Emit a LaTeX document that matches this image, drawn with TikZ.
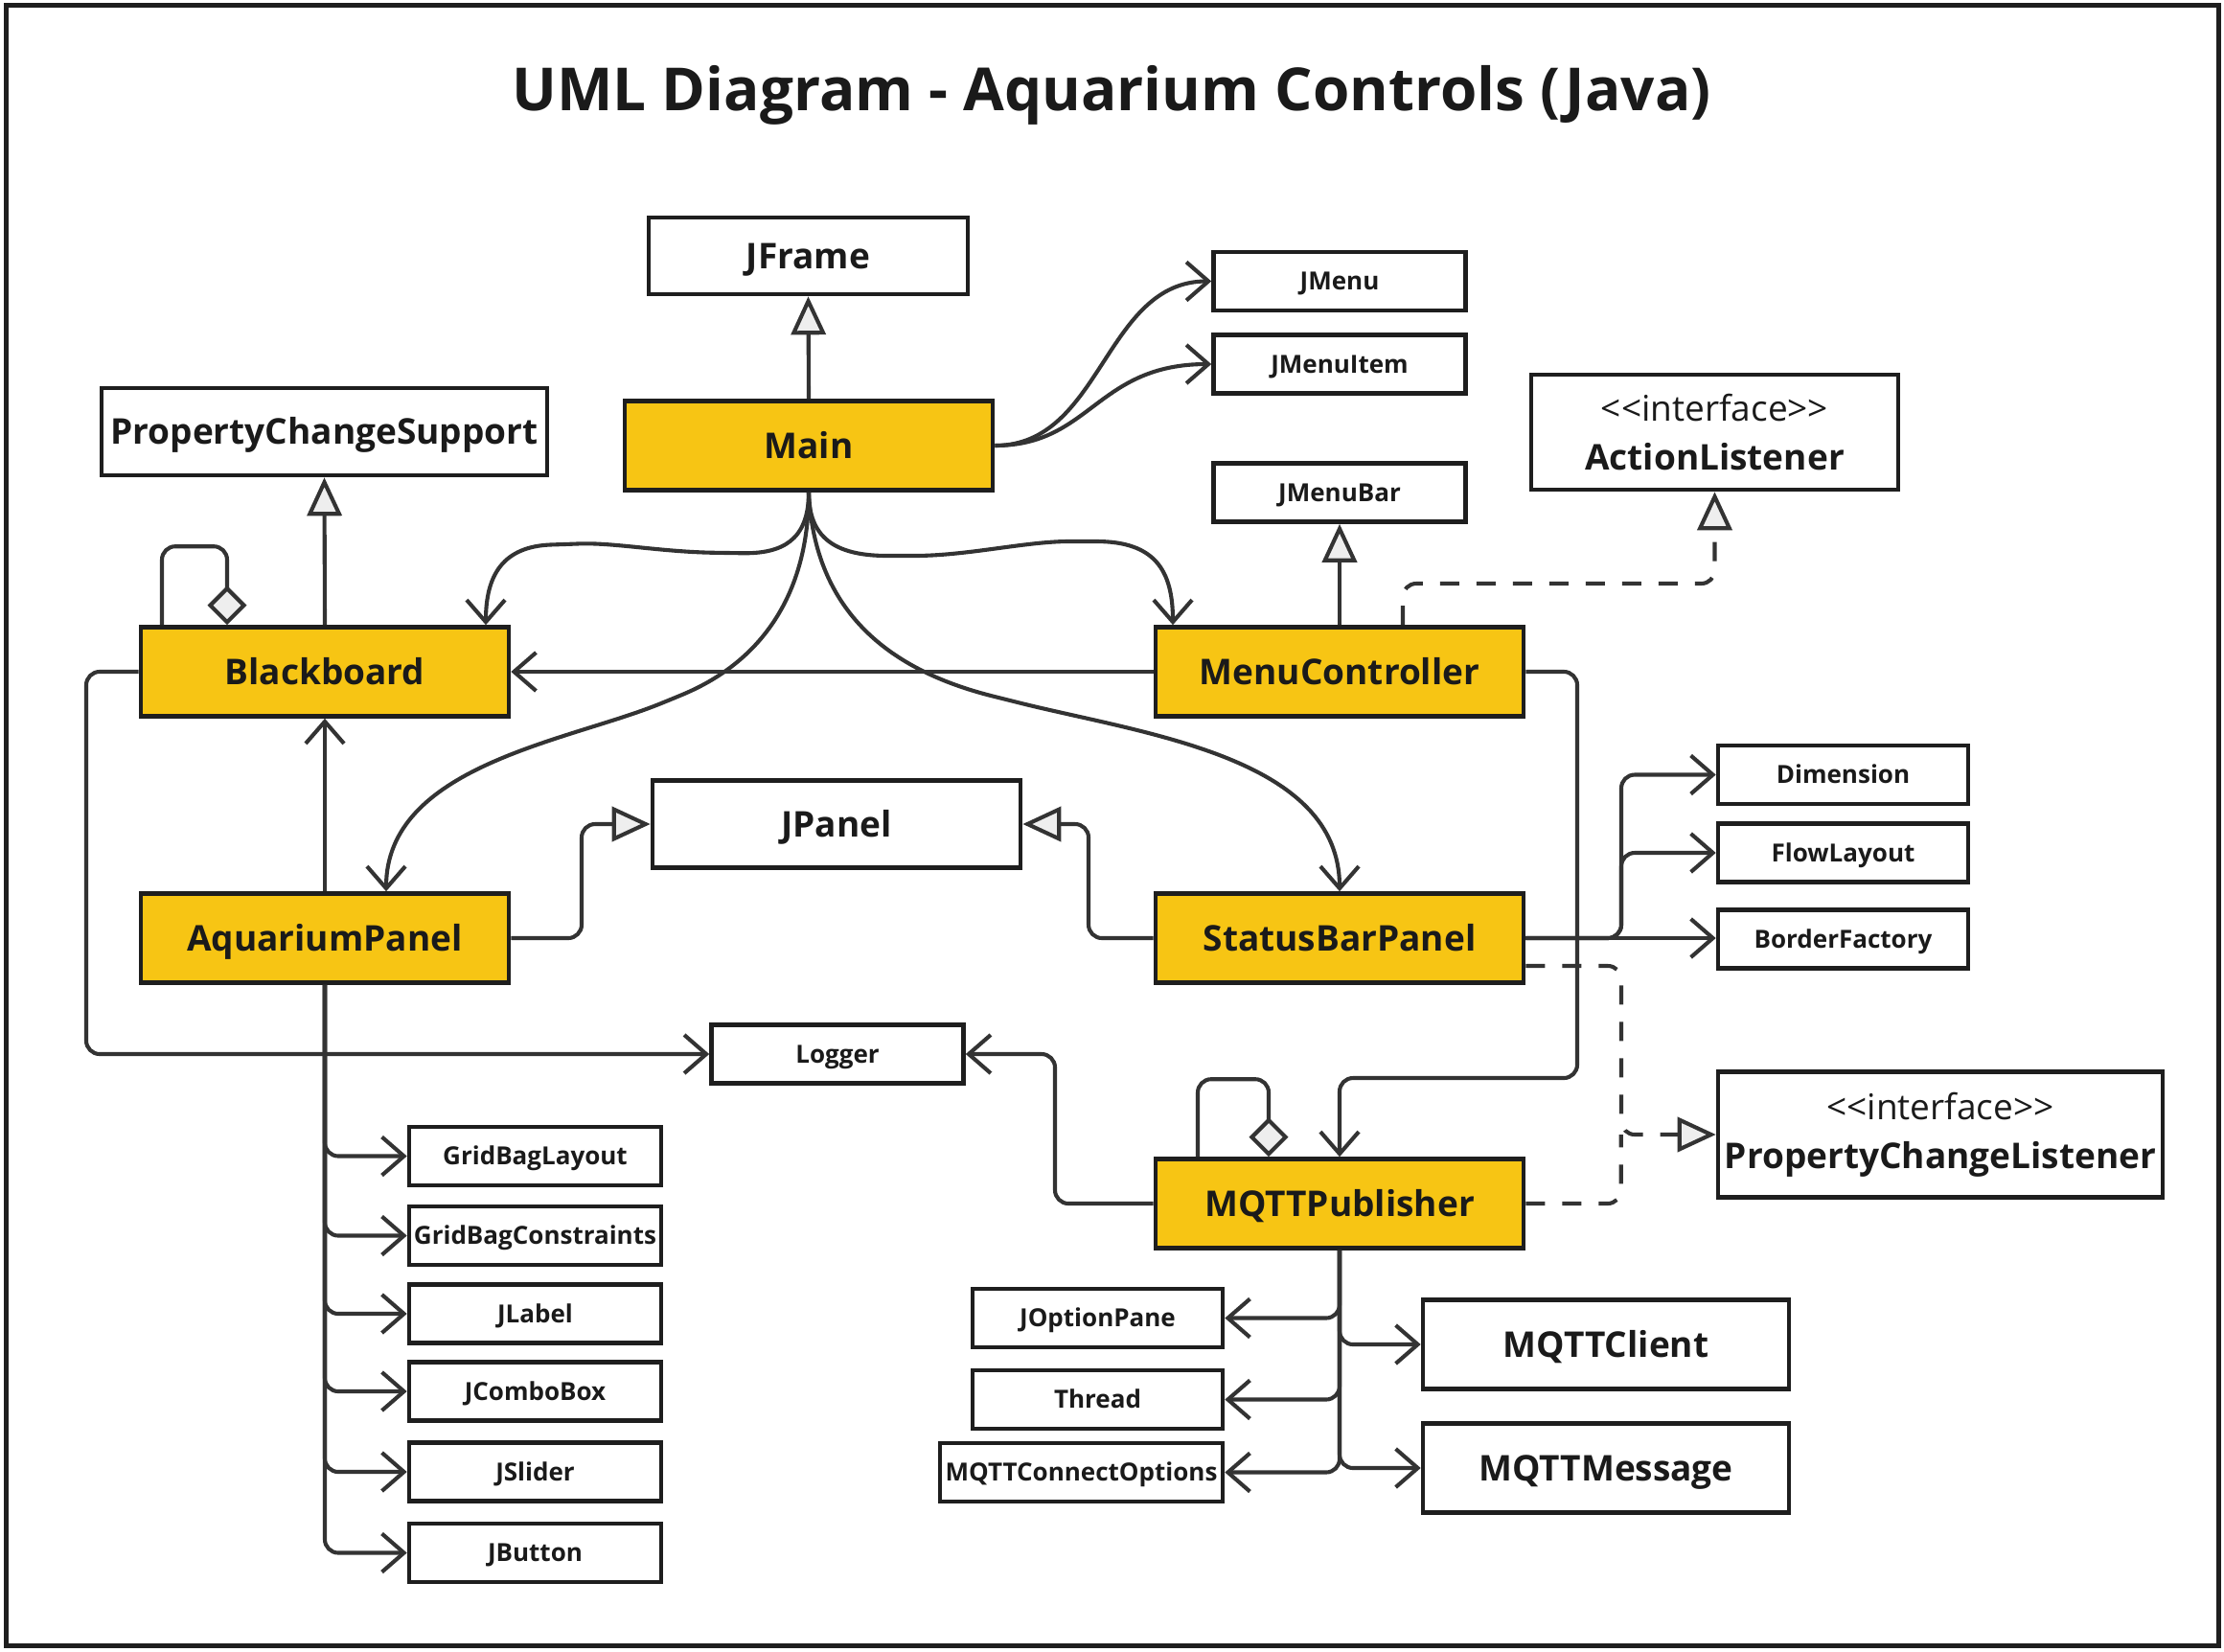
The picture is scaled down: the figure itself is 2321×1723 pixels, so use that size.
\documentclass[tikz,border=0pt]{standalone}
\usepackage{fontspec}
\IfFontExistsTF{Noto Sans Bold}
  {\newfontfamily\nf{Noto Sans}[BoldFont={Noto Sans Bold}]}
  {\IfFontExistsTF{Open Sans Bold}
     {\newfontfamily\nf{Open Sans}[BoldFont={Open Sans Bold}]}
     {\newfontfamily\nf{Noto Sans}[BoldFeatures={FakeBold=2.5}]}}
\usetikzlibrary{arrows.meta}
\definecolor{ybox}{HTML}{F7C514}
\definecolor{edge}{HTML}{333333}
\definecolor{bord}{HTML}{1E1E1E}
\definecolor{tipfill}{HTML}{EEEEEE}
\definecolor{txt}{HTML}{1A1A1A}
\begin{document}
\begin{tikzpicture}[x=0.5pt,y=-0.5pt,
  box/.style={draw=bord, line width=2.3pt, fill=white, text=txt, inner sep=0pt,
    font=\nf\bfseries\fontsize{18.5}{22}\selectfont, text height=13.2pt, text depth=0pt},
  big/.style={box, minimum width=192pt, minimum height=46.5pt},
  cls/.style={big, fill=ybox},
  small/.style={box, minimum width=131.5pt, minimum height=30.5pt,
    font=\nf\bfseries\fontsize{13}{16}\selectfont, text height=9.3pt},
  iface/.style={box, align=center, text height=, text depth=,
    font=\nf\fontsize{18.5}{25.5}\selectfont},
  conn/.style={draw=edge, line width=2.05pt, rounded corners=7pt},
  assoc/.style={conn, -{Straight Barb[length=11.5pt,width=20pt]}},
  gen/.style={conn, -{Triangle[length=20pt,width=18pt,fill=tipfill]}},
  real/.style={gen, dash pattern=on 10pt off 9pt},
  realline/.style={conn, dash pattern=on 10pt off 9pt},
  agg/.style={conn, -{Diamond[length=20.5pt,width=20.5pt,fill=tipfill]}},
]
\useasboundingbox (0,0) rectangle (2321,1723);
\fill[white] (0,0) rectangle (2321,1723);
\draw[draw=bord, line width=2.5pt] (6,6) rectangle (2315,1717);

\node[anchor=base, text=txt, font=\nf\bfseries\fontsize{31}{36}\selectfont] (title) at (1160,115) {UML Diagram - Aquarium Controls (Java)};

% nodes
\node[box, minimum width=166.5pt, minimum height=40pt] (jframe) at (843.5,267) {JFrame};
\node[cls] (main) at (844,465) {Main};
\node[box, minimum width=232.5pt, minimum height=45.5pt] (pcs) at (338.5,450.5) {PropertyChangeSupport};
\node[cls] (blackboard) at (339,701) {Blackboard};
\node[cls] (menuctl) at (1398,701) {MenuController};
\node[small] (jmenu) at (1398,293.5) {JMenu};
\node[small] (jmenuitem) at (1398,380) {JMenuItem};
\node[small] (jmenubar) at (1398,514) {JMenuBar};
\node[iface, minimum width=191.5pt, minimum height=60pt] (actionl) at (1789.5,451) {<<interface>>\\\bfseries ActionListener};
\node[big, minimum height=45.5pt] (jpanel) at (873,860) {JPanel};
\node[cls] (aquarium) at (339,979) {AquariumPanel};
\node[cls] (statusbar) at (1398,979) {StatusBarPanel};
\node[small] (logger) at (874,1100) {Logger};
\node[small] (gbl) at (558.5,1206.5) {GridBagLayout};
\node[small] (gbc) at (558.5,1289.5) {GridBagConstraints};
\node[small] (jlabel) at (558.5,1371) {JLabel};
\node[small] (jcombo) at (558.5,1452) {JComboBox};
\node[small] (jslider) at (558.5,1536) {JSlider};
\node[small] (jbutton) at (558.5,1620.5) {JButton};
\node[small, minimum width=130.5pt] (dimension) at (1923.5,808.5) {Dimension};
\node[small, minimum width=130.5pt] (flow) at (1923.5,890) {FlowLayout};
\node[small, minimum width=130.5pt] (borderf) at (1923.5,980) {BorderFactory};
\node[iface, minimum width=232pt, minimum height=65.5pt] (pcl) at (2025,1184) {<<interface>>\\\bfseries PropertyChangeListener};
\node[cls] (mqttpub) at (1398,1256) {MQTTPublisher};
\node[small, minimum width=130.5pt] (joption) at (1145.5,1375.5) {JOptionPane};
\node[small, minimum width=130.5pt] (thread) at (1145.5,1460.5) {Thread};
\node[small, minimum width=147.5pt] (mqttconn) at (1128.5,1536.5) {MQTTConnectOptions};
\node[big, minimum width=191pt] (mqttclient) at (1676,1403) {MQTTClient};
\node[big, minimum width=191pt] (mqttmsg) at (1676,1532) {MQTTMessage};

% generalizations
\draw[gen] (main.north) -- (jframe.south);
\draw[gen] (blackboard.north) -- (pcs.south);
\draw[gen] (menuctl.north) -- (jmenubar.south);
\draw[gen] (aquarium.east) -| (607,0 |- jpanel.west) -- (jpanel.west);
\draw[gen] (statusbar.west) -| (1136,0 |- jpanel.east) -- (jpanel.east);

% realizations
\draw[real] ([xshift=33pt]menuctl.north) |- (1600,609) -| (actionl.south);
\draw[real] ([yshift=-14.5pt]statusbar.east) -| (1692,0 |- pcl.west) -- (pcl.west);
\draw[realline] (mqttpub.east) -| ([xshift=-49.5pt]pcl.west);

% self aggregations
\draw[agg] ([xshift=-85pt]blackboard.north) |- ([xshift=-68pt,yshift=41pt]blackboard.north) -| ([xshift=-51pt]blackboard.north);
\draw[agg] ([xshift=-74pt]mqttpub.north) |- ([xshift=-56pt,yshift=40.5pt]mqttpub.north) -| ([xshift=-37pt]mqttpub.north);

% Main associations
\draw[assoc] (main.east) .. controls +(112,0) and +(-112,0) .. (jmenu.west);
\draw[assoc] (main.east) .. controls +(100,0) and +(-120,0) .. (jmenuitem.west);
\draw[assoc] (main.south) .. controls (844,565) and (815,578) .. (760,577)
  .. controls (690,576) and (640,566) .. (590,568)
  .. controls (525,570) and (507,600) .. ([xshift=84pt]blackboard.north);
\draw[assoc] (main.south) .. controls (844,560) and (870,580) .. (940,580)
  .. controls (1010,580) and (1070,565) .. (1130,565)
  .. controls (1205,565) and (1224,595) .. ([xshift=-87pt]menuctl.north);
\draw[assoc] (main.south) .. controls (844,620) and (795,690) .. (700,730)
  .. controls (590,774) and (403,800) .. ([xshift=32pt]aquarium.north);
\draw[assoc] (main.south) .. controls (850,640) and (930,700) .. (1050,730)
  .. controls (1194,766) and (1398,790) .. (statusbar.north);

% other associations
\draw[assoc] (menuctl.west) -- (blackboard.east);
\draw[assoc] (aquarium.north) -- (blackboard.south);
\draw[assoc] (menuctl.east) -| (1646,1125) -| (mqttpub.north);
\draw[assoc] (blackboard.west) -| (90,0 |- logger.west) -- (logger.west);
\draw[assoc] (mqttpub.west) -| (1101,0 |- logger.east) -- (logger.east);

\draw[assoc] (statusbar.east) -| (1692,0 |- dimension.west) -- (dimension.west);
\draw[assoc] (statusbar.east) -| (1692,0 |- flow.west) -- (flow.west);
\draw[assoc] (statusbar.east) -- (statusbar.east -| borderf.west);

\foreach \t in {gbl,gbc,jlabel,jcombo,jslider,jbutton}
  \draw[assoc] (aquarium.south) |- (\t.west);
\foreach \t in {joption,thread,mqttconn}
  \draw[assoc] (mqttpub.south) |- (\t.east);
\foreach \t in {mqttclient,mqttmsg}
  \draw[assoc] (mqttpub.south) |- (\t.west);
\end{tikzpicture}
\end{document}
